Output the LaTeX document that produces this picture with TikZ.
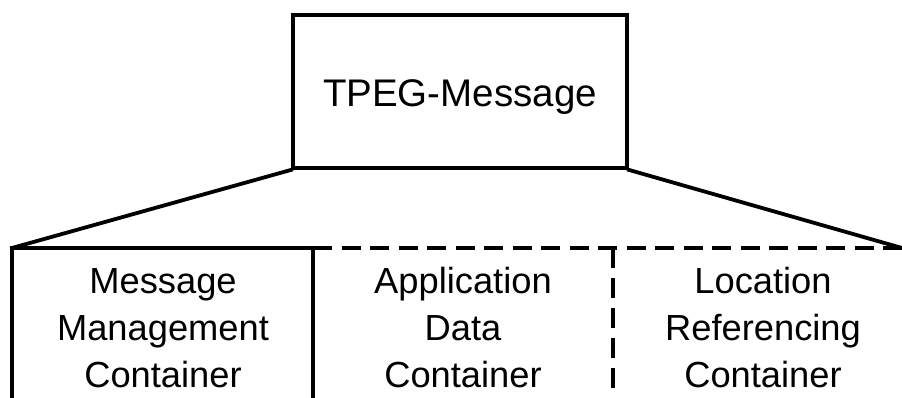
\documentclass[tikz,border=0pt]{standalone}
\usepackage{fontspec}
\setmainfont{Liberation Sans}
\begin{document}
\begin{tikzpicture}[x=1pt,y=1pt,
  edge/.style={line width=3.8pt,line cap=rect,line join=miter},
  dashedge/.style={line width=3.8pt,dash pattern=on 19pt off 9.5pt},
  vdashedge/.style={line width=3.8pt,dash pattern=on 20pt off 10pt},
  topbox/.style={draw,line width=3.8pt,minimum width=334pt,minimum height=153pt,
    inner sep=0pt,text height=31pt,text depth=0pt,font=\fontsize{38.5}{47}\selectfont},
  cont/.style={align=center,inner sep=0pt,font=\fontsize{36.3}{47}\selectfont}]
\useasboundingbox (0,0) rectangle (902,397);
\node[topbox] (msg) at (460,305.5) {TPEG-Message};
\coordinate (tl) at (12,149);
\coordinate (m1) at (313,149);
\coordinate (m2) at (613,149);
\coordinate (tr) at (902,149);
\coordinate (bl) at (12,-2);
\coordinate (b1) at (313,-2);
\coordinate (b2) at (613,-6);
\draw[edge] (msg.south west) -- (tl);
\draw[edge] (msg.south east) -- (tr);
\draw[edge] (bl) -- (tl) -- (m1) -- (b1);
\draw[dashedge] (m1) -- (tr);
\draw[vdashedge] (m2) -- (b2);
\node[cont,anchor=base] (mmc) at (163,10) {Message\\Management\\Container};
\node[cont,anchor=base] (adc) at (463,10) {Application\\Data\\Container};
\node[cont,anchor=base] (lrc) at (763,10) {Location\\Referencing\\Container};
\end{tikzpicture}
\end{document}
